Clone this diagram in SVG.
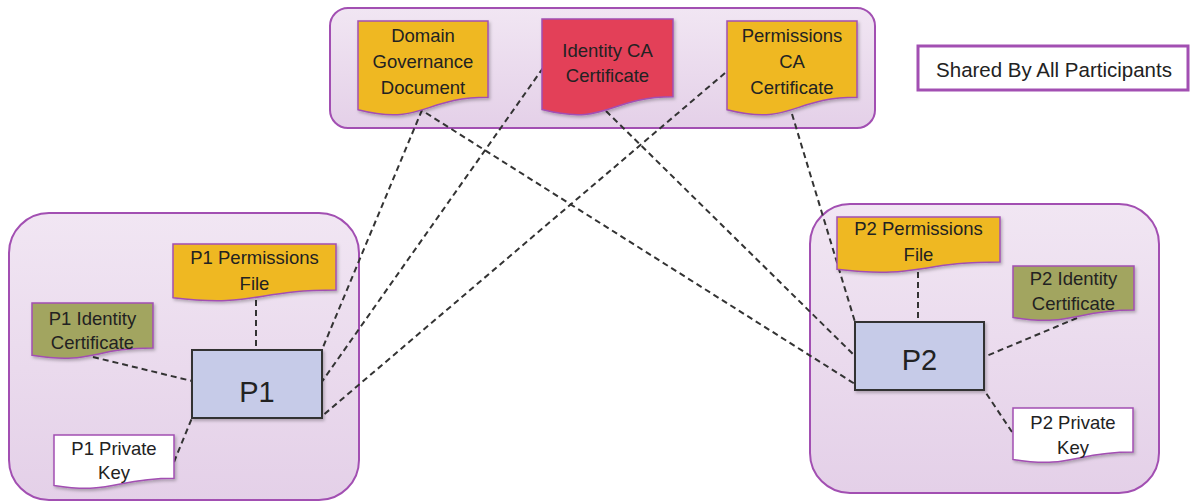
<svg xmlns="http://www.w3.org/2000/svg" width="1193" height="503" viewBox="0 0 1193 503">
  <defs>
    <linearGradient id="grpFill" x1="0" y1="0" x2="0" y2="1">
      <stop offset="0" stop-color="#f1e6f3"/>
      <stop offset="1" stop-color="#e4d0e8"/>
    </linearGradient>
    <filter id="sh" x="-10%" y="-10%" width="130%" height="130%">
      <feDropShadow dx="1.5" dy="2" stdDeviation="1.5" flood-color="#000" flood-opacity="0.25"/>
    </filter>
  </defs>
  <style>
    .grp { fill: url(#grpFill); stroke: #a24fb2; stroke-width: 2; }
    .doc { stroke: #a24fb2; stroke-width: 1.5; filter: url(#sh); }
    .yellow { fill: #efb823; }
    .red { fill: #e33f59; }
    .olive { fill: #a2a560; }
    .white { fill: #ffffff; }
    .proc { fill: #c6cbe8; stroke: #333; stroke-width: 2; filter: url(#sh); }
    .t { font-family: "Liberation Sans", Arial, sans-serif; font-size: 18.5px; fill: #222; text-anchor: middle; }
    .big { font-size: 29px; }
    .legend { font-size: 20.5px; }
    .conn line { stroke: #333; stroke-width: 2; stroke-dasharray: 6 4; fill: none; }
  </style>

  <!-- Group containers -->
  <g id="shared-group">
    <rect class="grp" x="330" y="8" width="545" height="120" rx="18"/>
  </g>
  <g id="p1-group">
    <rect class="grp" x="9" y="213" width="350" height="287" rx="40"/>
  </g>
  <g id="p2-group">
    <rect class="grp" x="810" y="204" width="349" height="289" rx="40"/>
  </g>

  <!-- Legend -->
  <g id="legend">
    <rect x="918" y="46" width="270" height="44" fill="#fff" stroke="#a24fb2" stroke-width="3"/>
    <text class="t legend" x="1054" y="77">Shared By All Participants</text>
  </g>

  <!-- Connectors -->
  <g id="connectors" class="conn">
    <line x1="422" y1="110" x2="321" y2="352"/>
    <line x1="543" y1="68" x2="321" y2="383"/>
    <line x1="725" y1="73" x2="321" y2="417"/>
    <line x1="426" y1="113" x2="855" y2="384"/>
    <line x1="606" y1="111" x2="855" y2="356"/>
    <line x1="792" y1="114" x2="855" y2="322"/>
    <line x1="256" y1="300" x2="256" y2="350"/>
    <line x1="93" y1="357" x2="192" y2="381"/>
    <line x1="174" y1="462" x2="192" y2="418"/>
    <line x1="918" y1="272" x2="918" y2="322"/>
    <line x1="1077" y1="318" x2="984" y2="357"/>
    <line x1="1012" y1="432" x2="984" y2="390"/>
  </g>

  <!-- Shared documents -->
  <g id="domain-governance">
    <path class="doc yellow" d="M358,21 H488 V97.2 C423,97.2 423,126.2 358,109.7 Z"/>
    <text class="t" x="423" y="42">Domain</text>
    <text class="t" x="423" y="68">Governance</text>
    <text class="t" x="423" y="94">Document</text>
  </g>
  <g id="identity-ca">
    <path class="doc red" d="M542,19 H673 V96.8 C607.5,96.8 607.5,126.4 542,109.6 Z"/>
    <text class="t" x="607.5" y="57">Identity CA</text>
    <text class="t" x="607.5" y="82">Certificate</text>
  </g>
  <g id="permissions-ca">
    <path class="doc yellow" d="M727,21 H857 V97.2 C792,97.2 792,126.2 727,109.7 Z"/>
    <text class="t" x="792" y="42">Permissions</text>
    <text class="t" x="792" y="68">CA</text>
    <text class="t" x="792" y="94">Certificate</text>
  </g>

  <!-- Participant 1 -->
  <g id="p1-permissions">
    <path class="doc yellow" d="M173,244 H336 V290.1 C254.5,290.1 254.5,307.6 173,297.7 Z"/>
    <text class="t" x="254.5" y="264">P1 Permissions</text>
    <text class="t" x="254.5" y="290">File</text>
  </g>
  <g id="p1-identity">
    <path class="doc olive" d="M32,303 H153 V347.9 C92.5,347.9 92.5,365 32,355.3 Z"/>
    <text class="t" x="92.5" y="325">P1 Identity</text>
    <text class="t" x="92.5" y="349">Certificate</text>
  </g>
  <g id="p1-private-key">
    <path class="doc white" d="M54,435 H174 V478.3 C114,478.3 114,494.8 54,485.4 Z"/>
    <text class="t" x="114" y="455">P1 Private</text>
    <text class="t" x="114" y="479">Key</text>
  </g>
  <g id="p1">
    <rect class="proc" x="192" y="350" width="130" height="68"/>
    <text class="t big" x="257" y="402">P1</text>
  </g>

  <!-- Participant 2 -->
  <g id="p2-permissions">
    <path class="doc yellow" d="M837,217 H1000 V261.9 C918.5,261.9 918.5,279 837,269.3 Z"/>
    <text class="t" x="918.5" y="235">P2 Permissions</text>
    <text class="t" x="918.5" y="261">File</text>
  </g>
  <g id="p2-identity">
    <path class="doc olive" d="M1013,266 H1134 V310.1 C1073.5,310.1 1073.5,326.9 1013,317.4 Z"/>
    <text class="t" x="1073.5" y="285">P2 Identity</text>
    <text class="t" x="1073.5" y="310">Certificate</text>
  </g>
  <g id="p2-private-key">
    <path class="doc white" d="M1013,408 H1133 V452.1 C1073,452.1 1073,468.9 1013,459.4 Z"/>
    <text class="t" x="1073" y="429">P2 Private</text>
    <text class="t" x="1073" y="454">Key</text>
  </g>
  <g id="p2">
    <rect class="proc" x="855" y="322" width="129" height="68"/>
    <text class="t big" x="919.5" y="370">P2</text>
  </g>
</svg>
